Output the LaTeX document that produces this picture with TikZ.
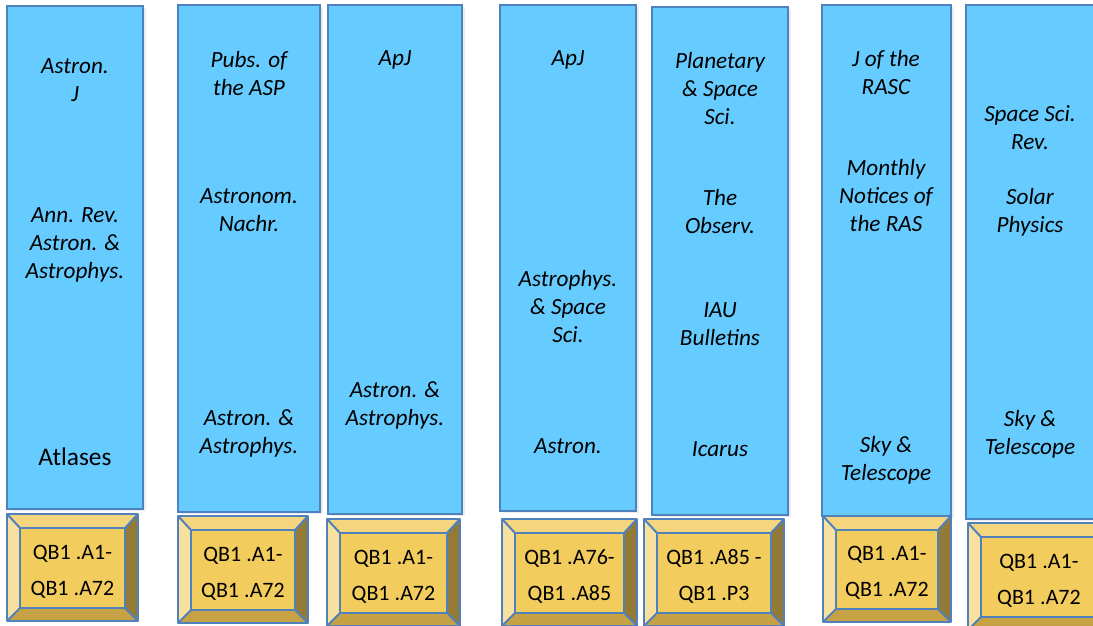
\documentclass[tikz,border=0pt]{standalone}
\usepackage{fontspec}
\setmainfont{Carlito}
\usetikzlibrary{positioning, shadows}
\definecolor{shelfblue}{HTML}{66CBFE}
\definecolor{edgeblue}{HTML}{4F81BD}
\definecolor{goldface}{HTML}{F2CC5C}
\definecolor{goldtop}{HTML}{F5D67E}
\definecolor{goldleft}{HTML}{F8E09E}
\definecolor{goldright}{HTML}{937A36}
\definecolor{goldbottom}{HTML}{C6A244}
\tikzset{
    shelf/.style={rectangle, draw=edgeblue, fill=shelfblue, line width=1pt, drop shadow={opacity=0.15, shadow xshift=1.5pt, shadow yshift=-1pt}},
    journal/.style={align=center, font=\fontsize{11.6}{14}\selectfont\itshape, inner sep=0pt},
    plain/.style={align=center, font=\fontsize{12.7}{14}\selectfont, inner sep=0pt},
    callno/.style={align=center, font=\fontsize{11}{18}\selectfont, inner sep=0pt},
    bevel/.style={draw=edgeblue, line width=1pt, line join=round},
}
\begin{document}
\begin{tikzpicture}[x=0.5pt, y=-0.5pt]
    \useasboundingbox (0,0) rectangle (1093,626);
    % shelves
    \path[shelf] (7,6) rectangle (143,509) coordinate (s1);
    \path[shelf] (178,5) rectangle (320,512) coordinate (s2);
    \path[shelf] (328,5) rectangle (462,514) coordinate (s3);
    \path[shelf] (500,5) rectangle (636,511) coordinate (s4);
    \path[shelf] (652,7) rectangle (788,515) coordinate (s5);
    \path[shelf] (822,5) rectangle (951,516) coordinate (s6);
    \path[shelf] (966,5) rectangle (1110,519) coordinate (s7);
    % titles
    \node [journal] (astronj) at (75,80) {Astron.\\J};
    \node [journal] (annrev) at (75,245) {Ann. Rev.\\Astron. \&\\Astrophys.};
    \node [plain] (atlases) at (75,457) {Atlases};
    \node [journal] (pasp) at (249,74) {Pubs. of\\the ASP};
    \node [journal] (nachr) at (249,210) {Astronom.\\Nachr.};
    \node [journal] (aa1) at (249,433) {Astron. \&\\Astrophys.};
    \node [journal] (apj1) at (395,60) {ApJ};
    \node [journal] (aa2) at (395,405) {Astron. \&\\Astrophys.};
    \node [journal] (apj2) at (568,60) {ApJ};
    \node [journal] (apss) at (568,307) {Astrophys.\\\& Space\\Sci.};
    \node [journal] (astron) at (568,446) {Astron.};
    \node [journal] (planss) at (720,89) {Planetary\\\& Space\\Sci.};
    \node [journal] (observ) at (720,212) {The\\Observ.};
    \node [journal] (iau) at (720,324) {IAU\\Bulletins};
    \node [journal] (icarus) at (720,449) {Icarus};
    \node [journal] (jrasc) at (886,73) {J of the\\RASC};
    \node [journal] (mnras) at (886,195.5) {Monthly\\Notices of\\the RAS};
    \node [journal] (skytel1) at (886,460) {Sky \&\\Telescope};
    \node [journal] (ssrev) at (1030,128) {Space Sci.\\Rev.};
    \node [journal] (solphys) at (1030,212) {Solar\\Physics};
    \node [journal] (skytel2) at (1030,434.5) {Sky \&\\Telescope};
    % call number plates
    \foreach \xa/\ya/\xb/\yb/\nm/\range in {
        7/514/138/621/p1/{QB1 .A1-\\QB1 .A72},
        178/516/308/623/p2/{QB1 .A1-\\QB1 .A72},
        327/519/460/626/p3/{QB1 .A1-\\QB1 .A72},
        502/519/637/626/p4/{QB1 .A76-\\QB1 .A85},
        644/519/784/626/p5/{QB1 .A85 -\\QB1 .P3},
        823/516/951/622/p6/{QB1 .A1-\\QB1 .A72},
        968/523/1110/630/p7/{QB1 .A1-\\QB1 .A72}} {
        \fill[goldtop] (\xa,\ya) -- (\xb,\ya) -- (\xb-13,\ya+14) -- (\xa+13,\ya+14) -- cycle;
        \fill[goldleft] (\xa,\ya) -- (\xa+13,\ya+14) -- (\xa+13,\yb-13) -- (\xa,\yb) -- cycle;
        \fill[goldright] (\xb,\ya) -- (\xb-13,\ya+14) -- (\xb-13,\yb-13) -- (\xb,\yb) -- cycle;
        \fill[goldbottom] (\xa,\yb) -- (\xa+13,\yb-13) -- (\xb-13,\yb-13) -- (\xb,\yb) -- cycle;
        \draw[bevel, fill=goldface] (\xa+13,\ya+14) rectangle (\xb-13,\yb-13);
        \draw[bevel] (\xa,\ya) -- (\xa+13,\ya+14) (\xb,\ya) -- (\xb-13,\ya+14)
            (\xa,\yb) -- (\xa+13,\yb-13) (\xb,\yb) -- (\xb-13,\yb-13);
        \draw[bevel] (\xa,\ya) rectangle (\xb,\yb);
        \node [callno] (\nm) at ({(\xa+\xb)/2}, {(\ya+\yb)/2+4}) {\range};
    }
\end{tikzpicture}
\end{document}
